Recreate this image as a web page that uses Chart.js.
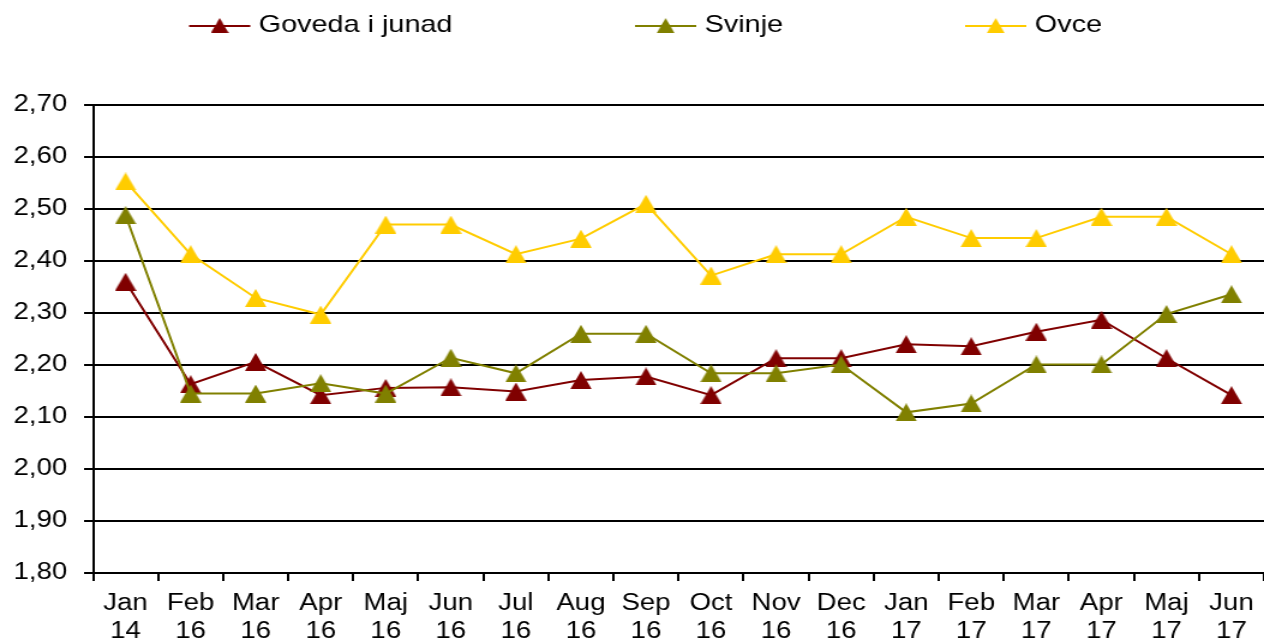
<!DOCTYPE html>
<html>
<head>
<meta charset="utf-8">
<script src="https://cdn.jsdelivr.net/npm/chart.js@4"></script>
<style>
  html, body { margin: 0; padding: 0; background: #fff; overflow: hidden; }
  /* the original picture is stretched sideways, so the canvas is too */
  #chart { display: block; width: 1264px !important; height: 642px !important; }
</style>
</head>
<body>
<canvas id="chart" width="1053" height="642"></canvas>
<script>
const months = ['Jan', 'Feb', 'Mar', 'Apr', 'Maj', 'Jun', 'Jul', 'Aug', 'Sep', 'Oct', 'Nov', 'Dec', 'Jan', 'Feb', 'Mar', 'Apr', 'Maj', 'Jun'];
const years = ['14', '16', '16', '16', '16', '16', '16', '16', '16', '16', '16', '16', '17', '17', '17', '17', '17', '17'];

const goveda = [2.360, 2.163, 2.206, 2.142, 2.156, 2.157, 2.149, 2.171, 2.178, 2.142, 2.213, 2.213, 2.240, 2.236, 2.264, 2.287, 2.213, 2.142];
const svinje = [2.488, 2.145, 2.145, 2.165, 2.145, 2.214, 2.184, 2.260, 2.260, 2.184, 2.184, 2.201, 2.109, 2.126, 2.201, 2.201, 2.298, 2.336];
const ovce = [2.553, 2.413, 2.329, 2.297, 2.470, 2.470, 2.413, 2.443, 2.510, 2.372, 2.413, 2.413, 2.485, 2.444, 2.444, 2.485, 2.485, 2.413];

const FONT = '"Liberation Sans", Arial, sans-serif';

// triangle marker centred on its box, like the spreadsheet one
function triangle(color) {
  const c = document.createElement('canvas');
  c.width = 18;
  c.height = 18;
  const g = c.getContext('2d');
  g.fillStyle = color;
  g.beginPath();
  g.moveTo(9, 0);
  g.lineTo(17.9, 18);
  g.lineTo(0.1, 18);
  g.closePath();
  g.fill();
  return c;
}

const topLegend = {
  id: 'topLegend',
  afterDraw(chart) {
    const ctx = chart.ctx;
    const xs = [157.5, 529, 804];
    const y = 26;
    ctx.save();
    ctx.font = '24px ' + FONT;
    ctx.textBaseline = 'middle';
    ctx.fillStyle = '#000';
    chart.data.datasets.forEach((ds, i) => {
      const x = xs[i];
      ctx.strokeStyle = ds.borderColor;
      ctx.lineWidth = 2;
      ctx.beginPath();
      ctx.moveTo(x, y);
      ctx.lineTo(x + 51, y);
      ctx.stroke();
      ctx.drawImage(ds.pointStyle, x + 25.5 - 7.5, y - 8, 15, 15);
      ctx.fillText(ds.label, x + 58, y - 1);
    });
    ctx.restore();
  }
};

function series(label, data, color, order) {
  return {
    label: label,
    data: data,
    borderColor: color,
    backgroundColor: color,
    borderWidth: 2,
    tension: 0,
    pointStyle: triangle(color),
    pointRadius: 9,
    order: order
  };
}

new Chart(document.getElementById('chart'), {
  type: 'line',
  data: {
    labels: months.map((m, i) => [m, years[i]]),
    datasets: [
      series('Goveda i junad', goveda, '#800000', 3),
      series('Svinje', svinje, '#808000', 2),
      series('Ovce', ovce, '#FFCC00', 1)
    ]
  },
  plugins: [topLegend],
  options: {
    responsive: false,
    animation: false,
    events: [],
    layout: { autoPadding: false, padding: { top: 105, left: 0, right: 0, bottom: 0 } },
    plugins: {
      legend: { display: false },
      tooltip: { enabled: false }
    },
    scales: {
      x: {
        offset: true,
        grid: { offset: true, drawOnChartArea: false, drawTicks: true, tickLength: 8, color: '#000', lineWidth: 2 },
        border: { display: true, color: '#000', width: 2 },
        ticks: {
          color: '#000',
          font: { family: FONT, size: 23, lineHeight: 1.22 },
          padding: 9,
          autoSkip: false,
          maxRotation: 0,
          minRotation: 0
        },
        afterFit(scale) {
          scale.height = 69;
          scale.paddingLeft = 0;
          scale.paddingRight = 0;
        }
      },
      y: {
        min: 1.8,
        max: 2.7,
        grid: { color: '#000', lineWidth: 2, tickLength: 7.5, drawTicks: true },
        border: { display: true, color: '#000', width: 2 },
        ticks: {
          stepSize: 0.1,
          color: '#000',
          font: { family: FONT, size: 23 },
          padding: 14,
          callback: v => v.toFixed(2).replace('.', ',')
        },
        afterFit(scale) { scale.width = 77.5; }
      }
    }
  }
});
</script>
</body>
</html>
